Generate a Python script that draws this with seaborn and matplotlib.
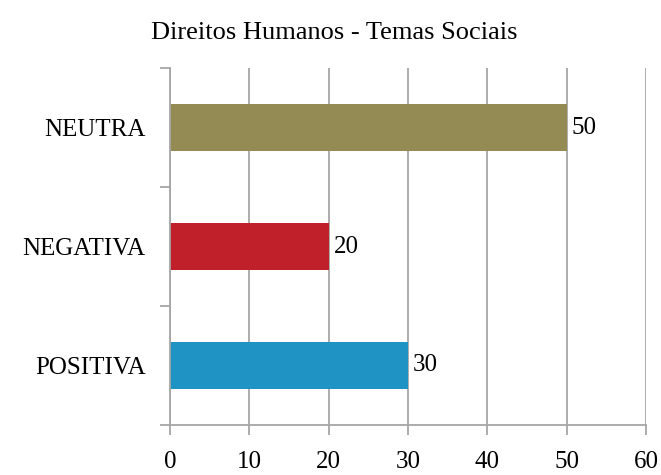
import matplotlib
matplotlib.use("Agg")

import matplotlib.pyplot as plt
import seaborn as sns
import pandas as pd

# dados
categorias = ["NEUTRA", "NEGATIVA", "POSITIVA"]
valores = [50, 20, 30]
cores = ["#948A54", "#C0202A", "#1F93C4"]
ticks_x = [0, 10, 20, 30, 40, 50, 60]

df = pd.DataFrame({"categoria": categorias, "valor": valores})

sns.set_style("white")
plt.rcParams["font.family"] = ["Liberation Serif", "DejaVu Serif"]
plt.rcParams["text.color"] = "black"
plt.rcParams["xtick.color"] = "black"
plt.rcParams["ytick.color"] = "black"

fig = plt.figure(figsize=(6.61, 4.75), dpi=100)
ax = fig.add_axes([0.2572, 0.1053, 0.7201, 0.7515])

sns.barplot(data=df, y="categoria", x="valor", hue="categoria",
            palette=cores, width=0.4, legend=False, ax=ax, saturation=1,
            linewidth=0)

grid_col = "#A6A6A6"
ax.set_xlim(0, 60)
ax.set_xticks(ticks_x)
ax.set_ylim(2.5, -0.5)
ax.xaxis.grid(True, color=grid_col, linewidth=1.3)
ax.set_axisbelow(True)

# marcas do eixo y entre as categorias
ax.set_yticks([0, 1, 2])
ax.set_yticklabels(categorias)
ax.set_yticks([-0.5, 0.5, 1.5, 2.5], minor=True)
ax.tick_params(axis="y", which="major", left=False, pad=14, labelsize=18,
               labelcolor="black")
ax.tick_params(axis="y", which="minor", left=True, length=7, width=1.3, color=grid_col)
ax.tick_params(axis="x", bottom=True, length=7, width=1.3, color=grid_col, pad=12,
               labelsize=18, labelcolor="black")

for s in ["top", "right"]:
    ax.spines[s].set_visible(False)
for s in ["left", "bottom"]:
    ax.spines[s].set_color(grid_col)
    ax.spines[s].set_linewidth(1.3)

ax.set_xlabel("")
ax.set_ylabel("")

for i, v in enumerate(valores):
    ax.text(v + 0.6, i, str(v), va="center", ha="left", fontsize=18, color="black")

fig.text(0.505, 0.93, "Direitos Humanos - Temas Sociais", ha="center", va="center",
         fontsize=19, color="black")

fig.savefig("out.png", dpi=100)
plt.close(fig)
